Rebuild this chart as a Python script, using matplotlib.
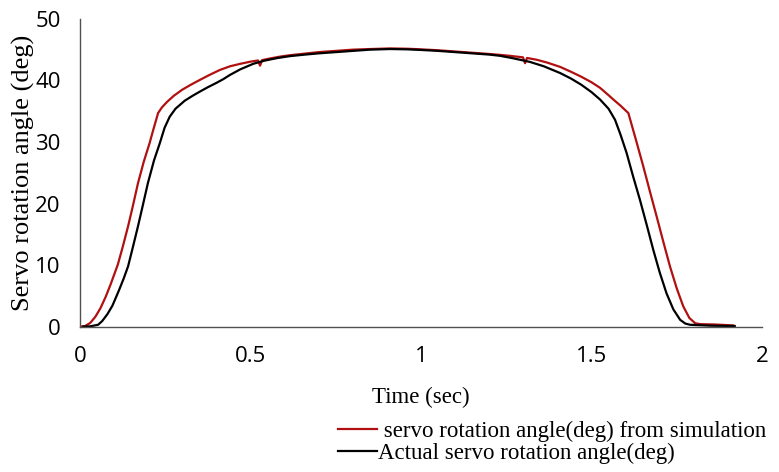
import matplotlib
matplotlib.use('Agg')
import matplotlib.pyplot as plt

# Simulated servo angle (red)
t_sim = [0.000, 0.015, 0.030, 0.045, 0.060, 0.075, 0.090, 0.111, 0.125, 0.141,
         0.155, 0.170, 0.187, 0.204, 0.215, 0.229, 0.240, 0.255, 0.275, 0.300,
         0.325, 0.352, 0.380, 0.410, 0.440, 0.470, 0.500, 0.522, 0.528, 0.534,
         0.560, 0.590, 0.616, 0.650, 0.700, 0.750, 0.800, 0.850, 0.909, 0.960,
         1.000, 1.050, 1.100, 1.150, 1.200, 1.232, 1.260, 1.299, 1.305, 1.311,
         1.340, 1.370, 1.408, 1.440, 1.470, 1.500, 1.525, 1.550, 1.564, 1.585,
         1.608, 1.630, 1.652, 1.672, 1.691, 1.710, 1.730, 1.750, 1.769, 1.787,
         1.804, 1.820, 1.860, 1.915]
y_sim = [0.0, 0.1, 0.6, 1.6, 3.0, 4.8, 6.9, 10.1, 12.9, 16.3,
         19.6, 23.3, 26.8, 29.8, 32.0, 34.7, 35.6, 36.5, 37.5, 38.5,
         39.3, 40.1, 40.9, 41.7, 42.3, 42.7, 43.05, 43.25, 42.4, 43.3,
         43.6, 43.9, 44.1, 44.3, 44.6, 44.8, 45.0, 45.1, 45.2, 45.15,
         45.05, 44.9, 44.7, 44.5, 44.3, 44.15, 44.0, 43.75, 42.8, 43.65,
         43.35, 42.9, 42.2, 41.4, 40.6, 39.7, 38.8, 37.6, 36.9, 35.9,
         34.7, 30.4, 26.0, 21.8, 17.9, 13.9, 9.8, 6.2, 3.3, 1.4,
         0.55, 0.4, 0.35, 0.2]

# Measured servo angle (black)
t_act = [0.010, 0.030, 0.053, 0.065, 0.080, 0.095, 0.102, 0.115, 0.128, 0.141,
         0.155, 0.170, 0.185, 0.199, 0.217, 0.234, 0.248, 0.263, 0.280, 0.307,
         0.330, 0.352, 0.375, 0.400, 0.420, 0.440, 0.470, 0.508, 0.540, 0.580,
         0.616, 0.660, 0.700, 0.750, 0.800, 0.850, 0.909, 0.960, 1.000, 1.050,
         1.100, 1.150, 1.200, 1.232, 1.270, 1.320, 1.360, 1.408, 1.440, 1.470,
         1.500, 1.525, 1.550, 1.569, 1.585, 1.603, 1.622, 1.642, 1.662, 1.681,
         1.700, 1.720, 1.740, 1.760, 1.775, 1.789, 1.850, 1.920]
y_act = [0.0, 0.05, 0.3, 0.9, 2.0, 3.4, 4.3, 6.0, 7.8, 9.8,
         12.9, 16.3, 19.9, 23.3, 27.0, 29.8, 32.3, 34.1, 35.4, 36.7,
         37.5, 38.2, 38.9, 39.6, 40.2, 40.9, 41.8, 42.7, 43.2, 43.65,
         43.95, 44.2, 44.4, 44.6, 44.8, 45.0, 45.1, 45.05, 44.95, 44.8,
         44.6, 44.4, 44.2, 44.0, 43.6, 43.0, 42.3, 41.2, 40.3, 39.3,
         38.1, 36.9, 35.4, 33.6, 31.2, 28.2, 24.4, 20.6, 16.5, 12.5,
         8.8, 5.4, 2.8, 1.1, 0.5, 0.3, 0.15, 0.1]

x_ticks = [0, 0.5, 1, 1.5, 2]
x_tick_labels = ['0', '0.5', '1', '1.5', '2']
y_ticks = [0, 10, 20, 30, 40, 50]

fig = plt.figure(figsize=(7.79, 4.72), dpi=100)
ax = fig.add_axes([0.1027, 0.308, 0.8755, 0.652])

ax.plot(t_sim, y_sim, color='#b01010', linewidth=1.6,
        label=' servo rotation angle(deg) from simulation')
ax.plot(t_act, y_act, color='black', linewidth=1.6,
        label='Actual servo rotation angle(deg)')

ax.set_xlim(0, 2)
ax.set_ylim(0, 50)
ax.set_xticks(x_ticks)
ax.set_xticklabels(x_tick_labels)
ax.set_yticks(y_ticks)
ax.tick_params(length=0, labelsize=16, pad=14)
ax.tick_params(axis='y', pad=14)
for lab in ax.get_xticklabels() + ax.get_yticklabels():
    lab.set_fontfamily('Open Sans')

for s in ['top', 'right']:
    ax.spines[s].set_visible(False)
for s in ['left', 'bottom']:
    ax.spines[s].set_color('#505050')
    ax.spines[s].set_linewidth(1.0)

ax.set_xlabel('Time (sec)', fontfamily='Liberation Serif', fontsize=16.5, labelpad=14)
ax.set_ylabel('Servo rotation angle (deg)', fontfamily='Liberation Serif', fontsize=19, labelpad=0)

fig.legend(loc='upper left', bbox_to_anchor=(0.4225, 0.128), frameon=False,
           prop={'family': 'Liberation Serif', 'size': 16.5},
           handlelength=1.7, handletextpad=0.05, labelspacing=0.05, borderaxespad=0)

fig.savefig('out.png', dpi=100)
